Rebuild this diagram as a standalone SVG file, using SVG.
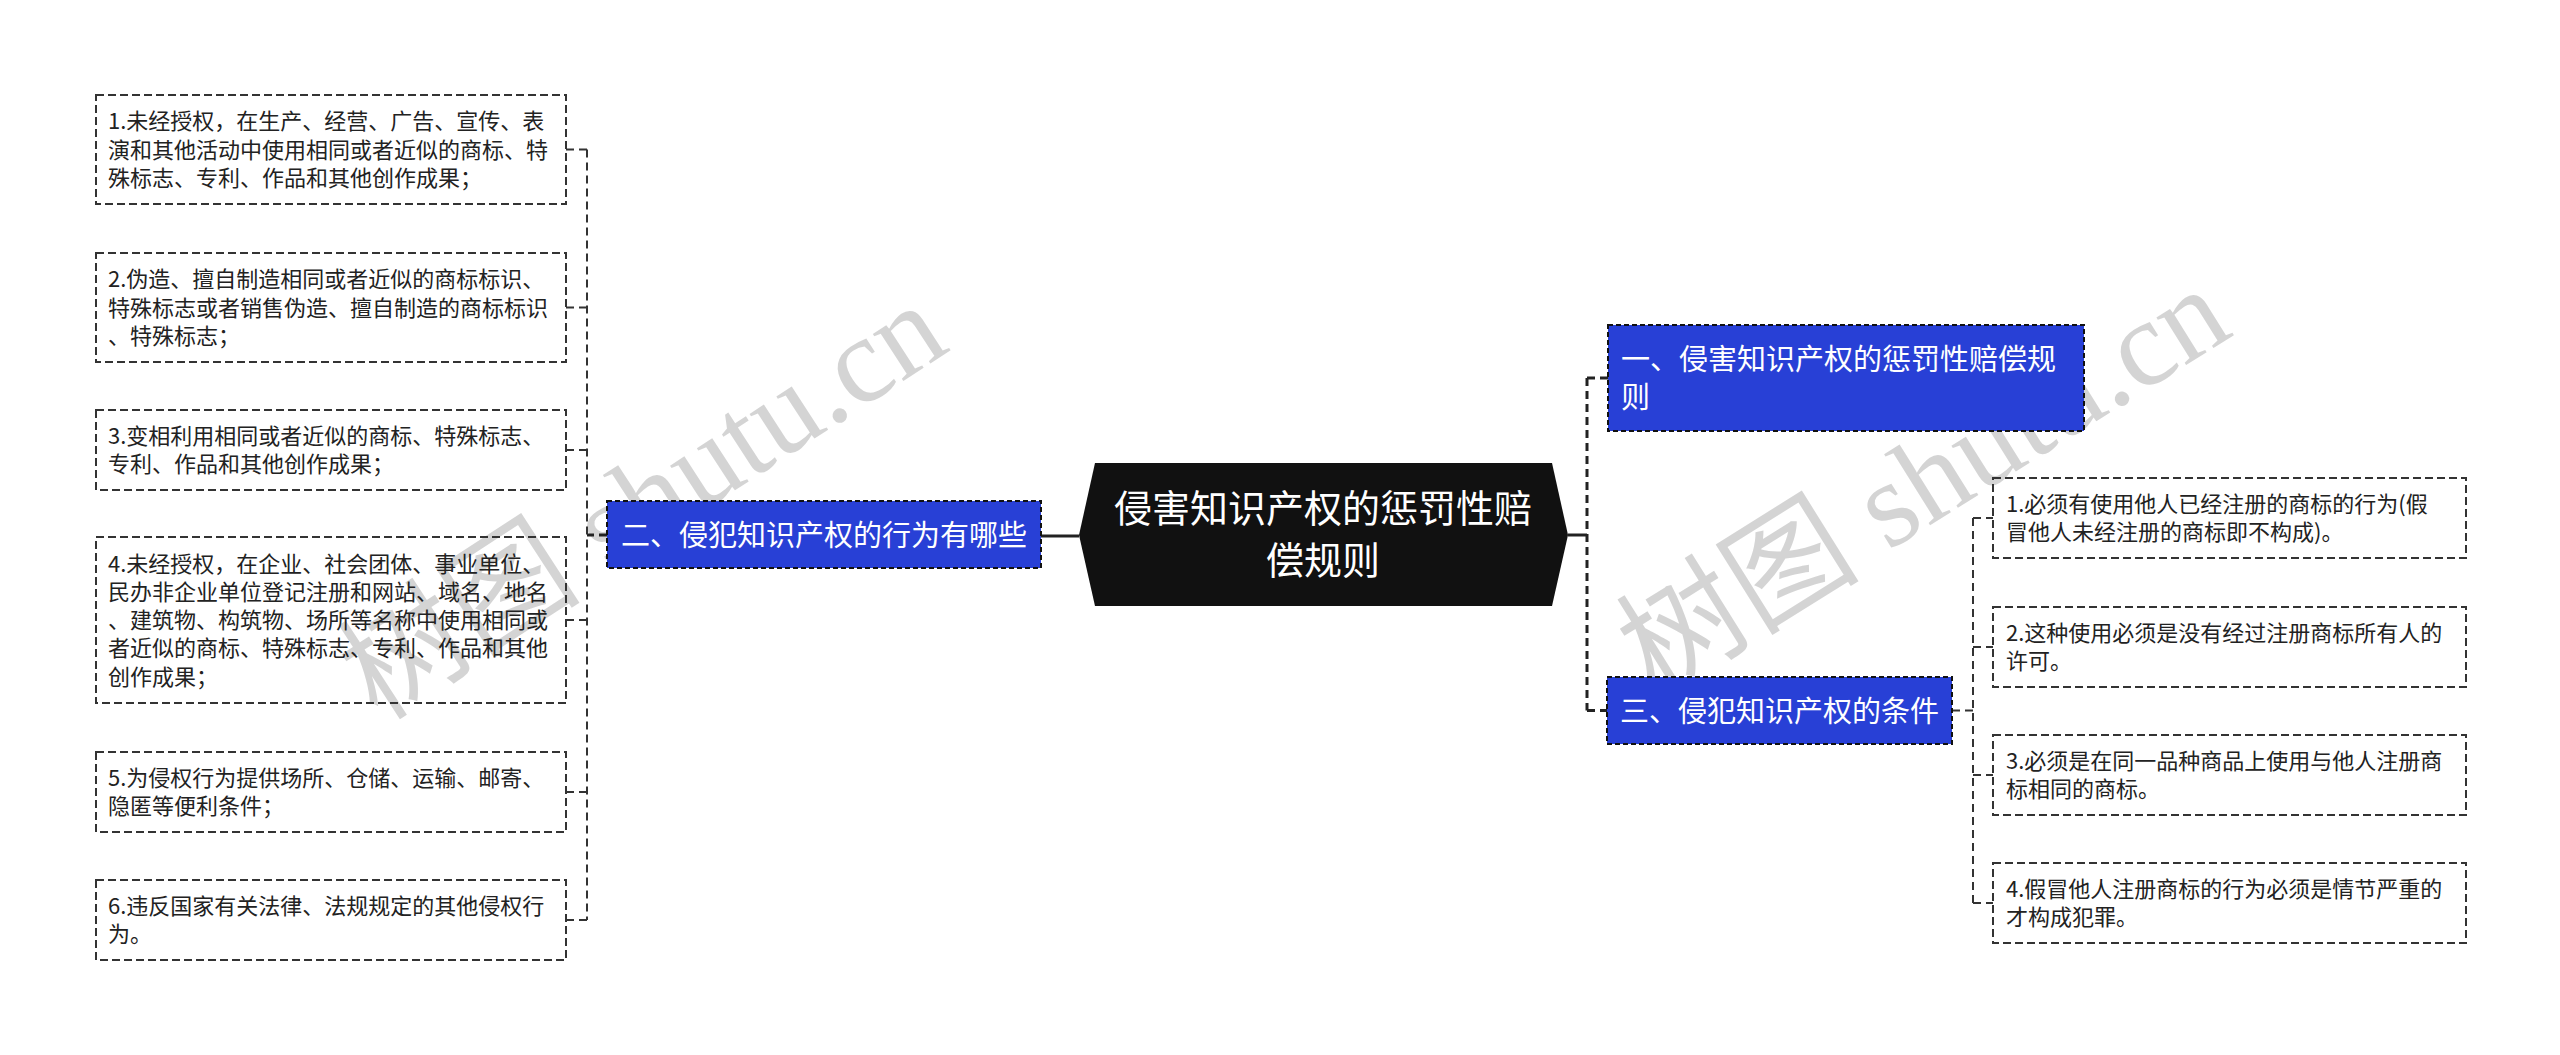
<svg xmlns="http://www.w3.org/2000/svg" width="2560" height="1055" viewBox="0 0 2560 1055">
<style>
.bg{fill:#ffffff}
.leaf{fill:none;stroke:#333333;stroke-width:2;stroke-dasharray:8 4}
.blue{fill:#2840d6;stroke:#111111;stroke-width:2;stroke-dasharray:5 3}
.root{fill:#111111}
.t{font-family:"Noto Sans CJK SC","Noto Sans",sans-serif;font-size:22px;fill:#222222}
.tb{font-family:"Noto Sans CJK SC","Noto Sans",sans-serif;font-size:29px;fill:#ffffff}
.tr{font-family:"Noto Sans CJK SC","Noto Sans",sans-serif;font-size:38px;fill:#ffffff}
.c{fill:none;stroke:#333333;stroke-width:2;stroke-dasharray:8 5}
.c3{fill:none;stroke:#222222;stroke-width:3;stroke-dasharray:8 5}
.s{fill:none;stroke:#222222;stroke-width:3}
.wm{font-family:"Liberation Serif","Noto Sans CJK SC",serif;font-size:122px;fill:#999999;fill-opacity:0.42}
</style>
<rect class="bg" x="0" y="0" width="2560" height="1055"/>
<g id="watermark">
<text class="wm" x="378" y="722" transform="rotate(-33 378 722)">树图 shutu.cn</text>
<text class="wm" x="1655" y="697" transform="rotate(-32 1655 697)">树图 shutu.cn</text>
</g>
<g id="connectors">
<path class="s" d="M1079,536 H1041"/>
<path class="s" d="M1568,535 H1587"/>
<path class="c3" d="M607,535 H587"/>
<path class="c" d="M587,149.5 V920"/>
<path class="c" d="M587,149.5 H566"/>
<path class="c" d="M587,307.5 H566"/>
<path class="c" d="M587,450 H566"/>
<path class="c" d="M587,620 H566"/>
<path class="c" d="M587,792 H566"/>
<path class="c" d="M587,920 H566"/>
<path class="c3" d="M1587,378 V710.5"/>
<path class="c3" d="M1587,378 H1608"/>
<path class="c3" d="M1587,710.5 H1607"/>
<path class="c" d="M1952,710.5 H1973"/>
<path class="c" d="M1973,518 V903"/>
<path class="c" d="M1973,518 H1993"/>
<path class="c" d="M1973,647 H1993"/>
<path class="c" d="M1973,775 H1993"/>
<path class="c" d="M1973,903 H1993"/>
</g>
<g id="root">
<polygon class="root" points="1079,535 1095,463 1552,463 1568,535 1552,606 1095,606"/>
<text class="tr" x="1323" y="522" text-anchor="middle">侵害知识产权的惩罚性赔</text>
<text class="tr" x="1323" y="574" text-anchor="middle">偿规则</text>
</g>
<g id="n2">
<rect class="blue" x="607" y="501" width="434" height="67"/>
<text class="tb" x="824" y="545.5" text-anchor="middle">二、侵犯知识产权的行为有哪些</text>
</g>
<g id="n1">
<rect class="blue" x="1608" y="325" width="476" height="106"/>
<text class="tb" x="1621" y="369.5">一、侵害知识产权的惩罚性赔偿规</text>
<text class="tb" x="1621" y="408">则</text>
</g>
<g id="n3">
<rect class="blue" x="1607" y="677" width="345" height="67"/>
<text class="tb" x="1779.5" y="721.5" text-anchor="middle">三、侵犯知识产权的条件</text>
</g>
<g id="l1">
<rect class="leaf" x="96" y="95" width="470" height="109"/>
<text class="t" x="108" y="129">1.未经授权，在生产、经营、广告、宣传、表</text>
<text class="t" x="108" y="158">演和其他活动中使用相同或者近似的商标、特</text>
<text class="t" x="108" y="186">殊标志、专利、作品和其他创作成果；</text>
</g>
<g id="l2">
<rect class="leaf" x="96" y="253" width="470" height="109"/>
<text class="t" x="108" y="287">2.伪造、擅自制造相同或者近似的商标标识、</text>
<text class="t" x="108" y="316">特殊标志或者销售伪造、擅自制造的商标标识</text>
<text class="t" x="108" y="344">、特殊标志；</text>
</g>
<g id="l3">
<rect class="leaf" x="96" y="410" width="470" height="80"/>
<text class="t" x="108" y="444">3.变相利用相同或者近似的商标、特殊标志、</text>
<text class="t" x="108" y="472">专利、作品和其他创作成果；</text>
</g>
<g id="l4">
<rect class="leaf" x="96" y="537" width="470" height="166"/>
<text class="t" x="108" y="572">4.未经授权，在企业、社会团体、事业单位、</text>
<text class="t" x="108" y="600">民办非企业单位登记注册和网站、域名、地名</text>
<text class="t" x="108" y="628">、建筑物、构筑物、场所等名称中使用相同或</text>
<text class="t" x="108" y="656">者近似的商标、特殊标志、专利、作品和其他</text>
<text class="t" x="108" y="685">创作成果；</text>
</g>
<g id="l5">
<rect class="leaf" x="96" y="752" width="470" height="80"/>
<text class="t" x="108" y="786">5.为侵权行为提供场所、仓储、运输、邮寄、</text>
<text class="t" x="108" y="814">隐匿等便利条件；</text>
</g>
<g id="l6">
<rect class="leaf" x="96" y="880" width="470" height="80"/>
<text class="t" x="108" y="914">6.违反国家有关法律、法规规定的其他侵权行</text>
<text class="t" x="108" y="942">为。</text>
</g>
<g id="r1">
<rect class="leaf" x="1993" y="478" width="473" height="80"/>
<text class="t" x="2006" y="512">1.必须有使用他人已经注册的商标的行为(假</text>
<text class="t" x="2006" y="540">冒他人未经注册的商标即不构成)。</text>
</g>
<g id="r2">
<rect class="leaf" x="1993" y="607" width="473" height="80"/>
<text class="t" x="2006" y="641">2.这种使用必须是没有经过注册商标所有人的</text>
<text class="t" x="2006" y="669">许可。</text>
</g>
<g id="r3">
<rect class="leaf" x="1993" y="735" width="473" height="80"/>
<text class="t" x="2006" y="769">3.必须是在同一品种商品上使用与他人注册商</text>
<text class="t" x="2006" y="797">标相同的商标。</text>
</g>
<g id="r4">
<rect class="leaf" x="1993" y="863" width="473" height="80"/>
<text class="t" x="2006" y="897">4.假冒他人注册商标的行为必须是情节严重的</text>
<text class="t" x="2006" y="925">才构成犯罪。</text>
</g>
</svg>
